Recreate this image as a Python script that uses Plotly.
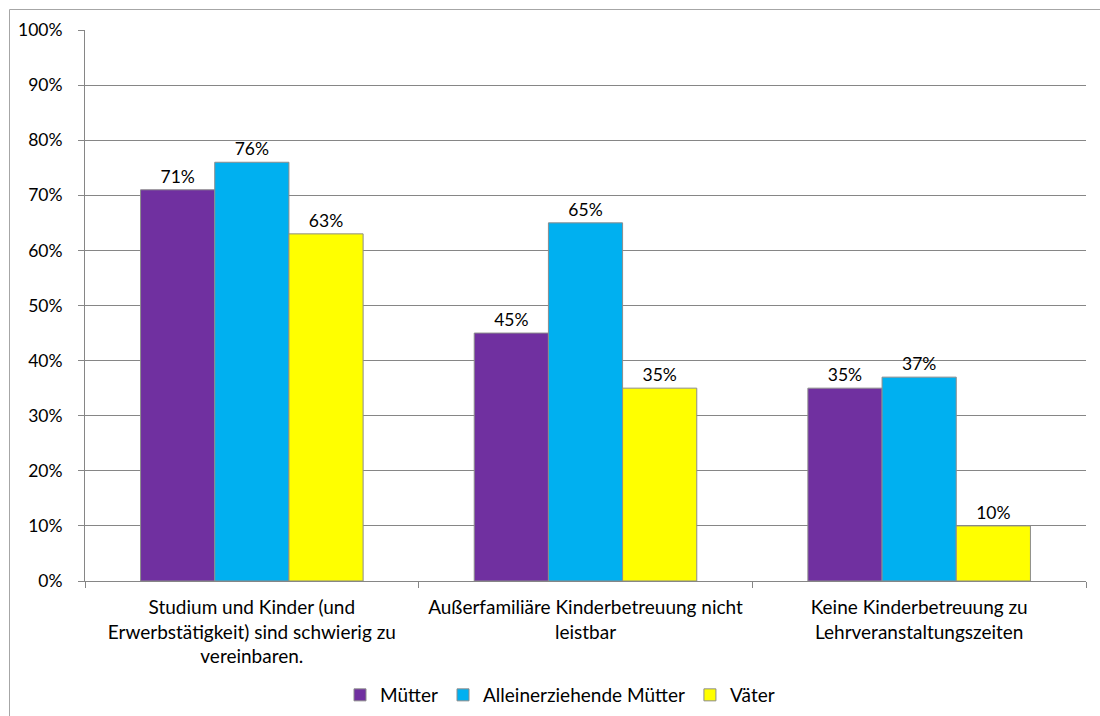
import plotly.graph_objects as go

# Reasons cited for difficulties combining study and childcare
categories = [
    "Studium und Kinder (und<br>Erwerbstätigkeit) sind schwierig zu<br>vereinbaren.",
    "Außerfamiliäre Kinderbetreuung nicht<br>leistbar",
    "Keine Kinderbetreuung zu<br>Lehrveranstaltungszeiten",
]
muetter = [71, 45, 35]
alleinerziehende = [76, 65, 37]
vaeter = [63, 35, 10]

series = [
    ("Mütter", muetter, "#7030A0"),
    ("Alleinerziehende Mütter", alleinerziehende, "#00B0F0"),
    ("Väter", vaeter, "#FFFF00"),
]

FONT = "Lato, 'Open Sans', sans-serif"
FS_NUM = 17.5   # percentages on the axis and above bars
FS_TXT = 19     # category names and legend entries
GRID = "#868686"

fig = go.Figure()
for name, vals, color in series:
    fig.add_trace(go.Bar(
        name=name,
        x=categories,
        y=vals,
        marker=dict(color=color, line=dict(color="#8c8c8c", width=1)),
        text=[f"{v}%" for v in vals],
        textposition="outside",
        cliponaxis=False,
        textfont=dict(family=FONT, size=FS_NUM, color="#000000"),
    ))

W, H = 1100, 716
L, R, T, B = 85, 14, 30, 135
pw, ph = W - L - R, H - T - B

def px_x(p):
    return (p - L) / pw

def px_y(p):
    return (H - B - p) / ph

fig.update_layout(
    width=W,
    height=H,
    margin=dict(l=L, r=R, t=T, b=B, autoexpand=False),
    paper_bgcolor="white",
    plot_bgcolor="white",
    barmode="group",
    bargap=0.333,
    bargroupgap=0,
    font=dict(family=FONT, size=FS_NUM, color="#000000"),
    showlegend=True,
    legend=dict(
        orientation="h",
        xref="container",
        yref="container",
        x=560 / W,
        xanchor="center",
        y=1 - 695 / H,
        yanchor="middle",
        font=dict(family=FONT, size=FS_TXT, color="#000000"),
        itemwidth=30,
        traceorder="normal",
    ),
    xaxis=dict(
        showline=True,
        linecolor=GRID,
        linewidth=1,
        ticks="outside",
        tickson="boundaries",
        ticklen=6,
        tickcolor=GRID,
        showgrid=False,
        automargin=False,
        ticklabelstandoff=9,
        tickfont=dict(family=FONT, size=FS_TXT),
    ),
    yaxis=dict(
        range=[0, 100],
        dtick=10,
        ticksuffix="%",
        showline=True,
        linecolor=GRID,
        linewidth=1,
        ticks="outside",
        ticklen=6,
        tickcolor=GRID,
        showgrid=True,
        gridcolor=GRID,
        gridwidth=1,
        zeroline=False,
        automargin=False,
        ticklabelstandoff=12,
        tickfont=dict(family=FONT, size=FS_NUM),
    ),
    shapes=[
        dict(
            type="rect",
            xref="paper",
            yref="paper",
            x0=px_x(9.5),
            y0=px_y(740),
            x1=px_x(1120),
            y1=px_y(9.5),
            line=dict(color="#a6a6a6", width=1),
            fillcolor="rgba(0,0,0,0)",
            layer="below",
        )
    ],
)

fig.write_html("out.html")
